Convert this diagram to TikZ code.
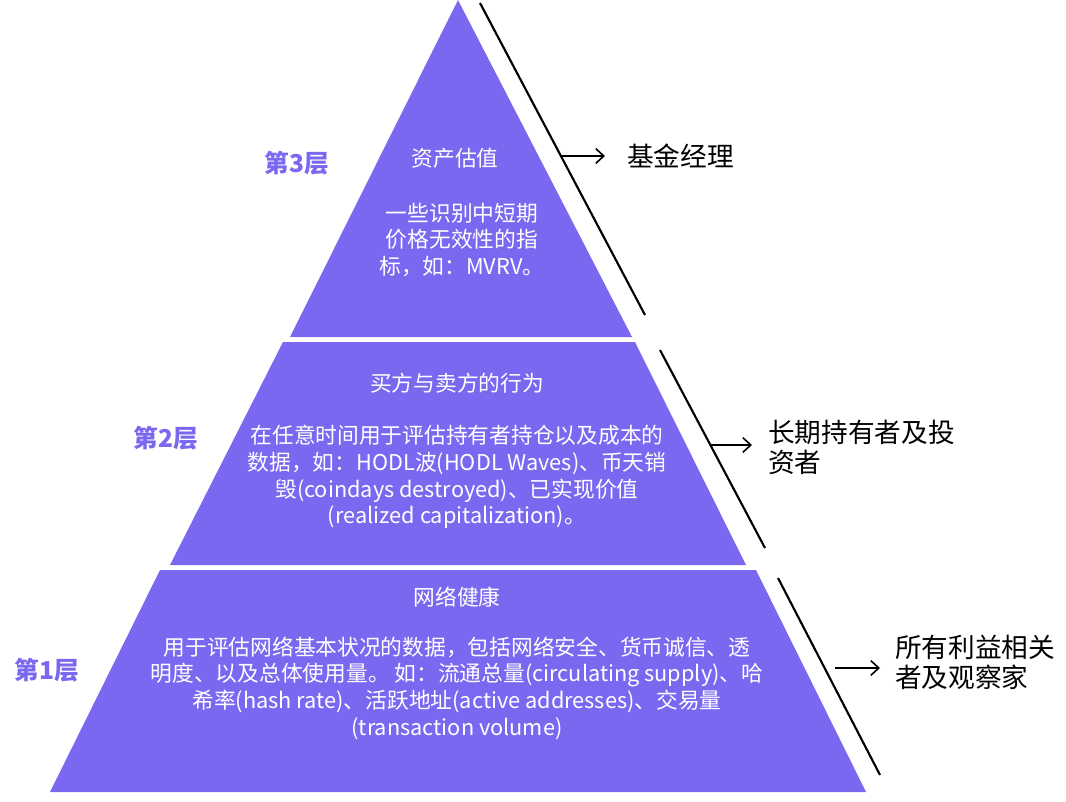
\documentclass[tikz,border=0pt]{standalone}
\usepackage{fontspec}
\setmainfont{Noto Sans CJK SC}
\usetikzlibrary{arrows.meta}
\definecolor{pyr}{HTML}{7B68F0}
\begin{document}
\begin{tikzpicture}[x=0.75pt,y=-0.75pt,
  tier/.style={fill=pyr,draw=none},
  body/.style={text=white,font=\fontsize{16.3}{20}\selectfont,align=center,inner sep=0pt},
  lvl/.style={text=pyr,font=\fontsize{18.5}{18}\selectfont\bfseries,inner sep=0pt},
  role/.style={font=\fontsize{20}{22.5}\selectfont,align=left,anchor=west,inner sep=0pt},
  sep/.style={line width=1.6pt,black},
  arr/.style={-{Straight Barb[length=6pt,width=11pt]},line width=1.2pt}]
\useasboundingbox (0,0) rectangle (1066,802);
\fill[tier] (458,0) -- (632,337) -- (290,337) -- cycle;
\fill[tier] (283,342) -- (635,342) -- (746,565) -- (170,565) -- cycle;
\fill[tier] (160,570) -- (756,570) -- (866,792) -- (50,792) -- cycle;
\node[body] (t3a) at (455,158) {资产估值};
\node[body] (t3b) at (462,240) {一些识别中短期\\价格无效性的指\\标，如：MVRV。};
\node[body] (t2a) at (457,383) {买方与卖方的行为};
\node[body] (t2b) at (457,477) {在任意时间用于评估持有者持仓以及成本的\\数据，如：HODL波(HODL Waves)、币天销\\毁(coindays destroyed)、已实现价值\\(realized capitalization)。};
\node[body] (t1a) at (457,597) {网络健康};
\node[body] (t1b) at (457,688) {用于评估网络基本状况的数据，包括网络安全、货币诚信、透\\明度、以及总体使用量。 如：流通总量(circulating supply)、哈\\希率(hash rate)、活跃地址(active addresses)、交易量\\(transaction volume)};
\node[lvl] (l3) at (297,163) {第3层};
\node[lvl] (l2) at (166,438) {第2层};
\node[lvl] (l1) at (47,670) {第1层};
\coordinate (s3a) at (480,3); \coordinate (s3b) at (645,315);
\coordinate (s2a) at (660,350); \coordinate (s2b) at (765,548);
\coordinate (s1a) at (778,578); \coordinate (s1b) at (880,775);
\draw[sep] (s3a) -- (s3b);
\draw[sep] (s2a) -- (s2b);
\draw[sep] (s1a) -- (s1b);
\node[role] (r3) at (627,156) {基金经理};
\node[role] (r2) at (768,447) {长期持有者及投\\资者};
\node[role] (r1) at (895,662) {所有利益相关\\者及观察家};
\coordinate (a3) at (560,156); \coordinate (a2) at (710,445); \coordinate (a1) at (835,668);
\draw[arr] (a3) -- (605,156);
\draw[arr] (a2) -- (752,445);
\draw[arr] (a1) -- (880,668);
\end{tikzpicture}
\end{document}
